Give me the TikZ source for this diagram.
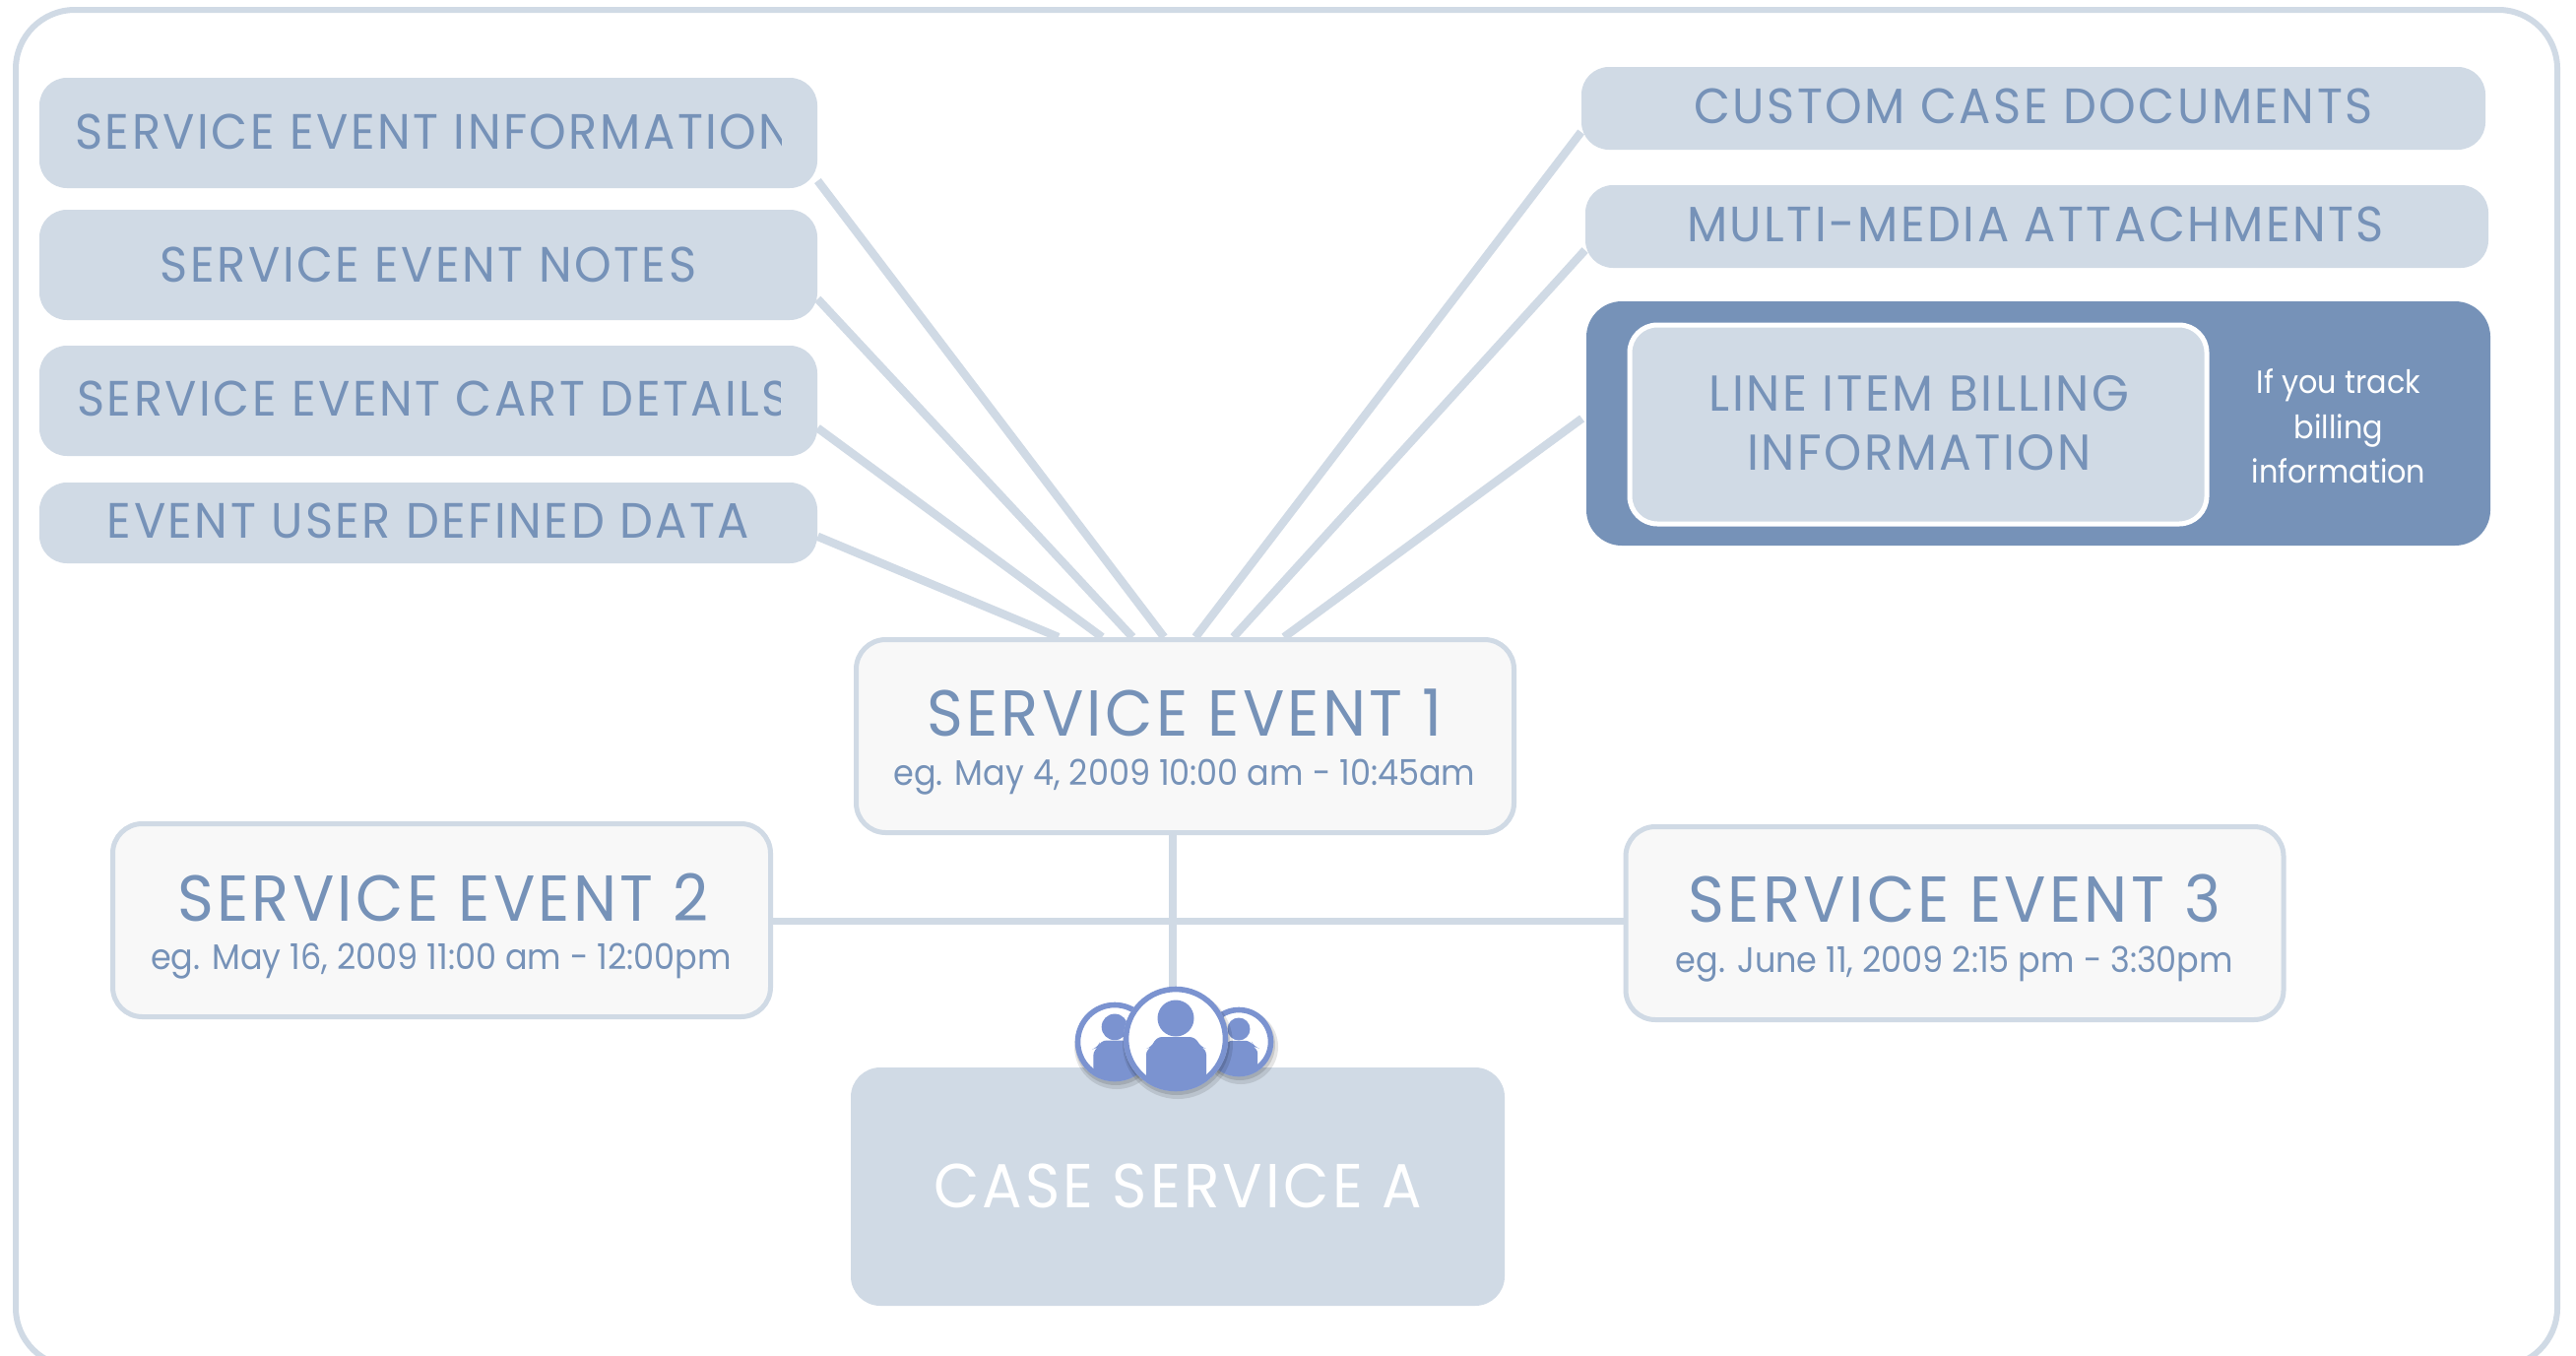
\documentclass[tikz,border=0pt]{standalone}
\usepackage{fontspec}
\setmainfont{Poppins}
\newfontfamily\gfont[FakeStretch=0.95,LetterSpace=5]{Poppins}
\newfontfamily\sfont[FakeStretch=0.93]{Poppins}
\definecolor{pale}{HTML}{D0DAE5}
\definecolor{steel}{HTML}{7692B8}
\definecolor{card}{HTML}{F8F8F8}
\definecolor{icon}{HTML}{7B93D0}
\tikzset{
 px/.style={x=0.5pt,y=-0.5pt},
 bar/.style={draw=pale,line width=4.2pt},
 paleBox/.style={fill=pale,rounded corners=14pt,inner sep=0pt},
 labelText/.style={text=steel,font=\gfont\fontsize{25.2}{29}\selectfont,inner sep=0pt,align=center},
 eventBox/.style={fill=card,draw=pale,line width=2.5pt,rounded corners=15pt,inner sep=0pt,minimum width=334pt,minimum height=98pt},
 titleText/.style={text=steel,font=\gfont\fontsize{33}{37}\selectfont,inner sep=0pt},
 subText/.style={text=steel,font=\sfont\fontsize{18}{22}\selectfont,inner sep=0pt},
}
\newcommand{\personicon}[4]{% cx cy r scale
 \begin{scope}[shift={(#1,#2)}]
  \fill[black,opacity=.10] (2,5) circle ({#3+3});
  \fill[black,opacity=.12] (1,3) circle ({#3+1});
  \fill[white] (0,0) circle (#3);
  \begin{scope}
   \clip (0,0) circle (#3);
   \fill[icon] (0,{-21*#4}) circle ({18.5*#4});
   \fill[icon,rounded corners=3pt] ({-30*#4},{60*#4}) -- ({-30*#4},{10*#4}) -- ({-24*#4},{8*#4}) -- ({-20*#4},{-2*#4}) -- ({20*#4},{-2*#4}) -- ({25*#4},{8*#4}) -- ({31*#4},{10*#4}) -- ({31*#4},{60*#4}) -- cycle;
  \end{scope}
  \draw[icon,line width=2.8pt] (0,0) circle ({#3-2.5});
 \end{scope}
}
\begin{document}
\begin{tikzpicture}[px]
\useasboundingbox (0,0) rectangle (2616,1376);
\clip (0,0) rectangle (2616,1376);
\fill[white] (0,0) rectangle (2616,1376);
\draw[pale,line width=3pt,rounded corners=30pt] (16,10) rectangle (2597,1388);

% left boxes
\node[paleBox,minimum width=395pt,minimum height=56pt] (sei) at (435,135) {};
\node[paleBox,minimum width=395pt,minimum height=56pt] (notes) at (435,269) {};
\node[paleBox,minimum width=395pt,minimum height=56pt] (cart) at (435,407) {};
\node[paleBox,minimum width=395pt,minimum height=41pt] (eudd) at (435,531) {};
\begin{scope}
 \clip (60,90) rectangle (793,180);
 \node[labelText,anchor=west] (seitxt) at (76,133.5) {SERVICE EVENT INFORMATION};
\end{scope}
\node[labelText] (notestxt) at (435,268.5) {SERVICE EVENT NOTES};
\begin{scope}
 \clip (60,360) rectangle (792,450);
 \node[labelText,anchor=west] (carttxt) at (78,405) {SERVICE EVENT CART DETAILS};
\end{scope}
\node[labelText] (euddtxt) at (435,529) {EVENT USER DEFINED DATA};

% right boxes
\node[paleBox,minimum width=459pt,minimum height=42pt] (custom) at (2065,110) {};
\node[labelText] (customtxt) at (2065,108) {CUSTOM CASE DOCUMENTS};
\node[paleBox,minimum width=458.5pt,minimum height=42pt] (multi) at (2068.5,230) {};
\node[labelText] (multitxt) at (2067,228) {MULTI-MEDIA ATTACHMENTS};
\node[fill=steel,rounded corners=18pt,inner sep=0pt,minimum width=459pt,minimum height=124pt] (dark) at (2070,430) {};
\node[fill=pale,draw=white,line width=2.5pt,rounded corners=14pt,inner sep=0pt,minimum width=293pt,minimum height=101pt] (billing) at (1948,431) {};
\node[labelText,font=\gfont\fontsize{25.6}{30}\selectfont] (billtxt) at (1949,430) {LINE ITEM BILLING\\INFORMATION};
\node[text=white,font=\sfont\fontsize{16.3}{22.8}\selectfont,inner sep=0pt,align=center] (iftxt) at (2375,433) {If you track\\billing\\information};

% event nodes
\node[eventBox] (e1) at (1203.5,747.5) {};
\node[eventBox] (e2) at (448.5,934.5) {};
\node[eventBox] (e3) at (1985,937.5) {};
\node[fill=pale,rounded corners=15pt,inner sep=0pt,minimum width=332pt,minimum height=121pt] (case) at (1196,1205) {};

% connectors
\draw[bar] (sei.-7.2) -- (e1.102.9);
\draw[bar] (notes.-5.1) -- (e1.118);
\draw[bar] (cart.-4.6) -- (e1.130);
\draw[bar] (eudd.-2.9) -- (e1.142.3);
\draw[bar] (custom.183.4) -- (e1.84.5);
\draw[bar] (multi.183.1) -- (e1.64.3);
\draw[bar,shorten <=2.5pt] (dark.179.4) -- (e1.45.3);
\coordinate (hub) at (1191,935);
\draw[bar] (e1.south -| hub) -- (hub |- case.north);
\draw[bar,line width=3.5pt] (e2.east |- hub) -- (e3.west |- hub);

% event text
\node[titleText] (t1) at (1203,724) {SERVICE EVENT 1};
\node[subText] (s1) at (1203,789) {eg. May 4, 2009 10:00 am - 10:45am};
\node[titleText] (t2) at (450,911) {SERVICE EVENT 2};
\node[subText] (s2) at (448,976) {eg. May 16, 2009 11:00 am - 12:00pm};
\node[titleText] (t3) at (1985,912) {SERVICE EVENT 3};
\node[subText] (s3) at (1985,979) {eg. June 11, 2009 2:15 pm - 3:30pm};
\node[titleText,text=white,font=\gfont\fontsize{31.6}{36}\selectfont] (t4) at (1196,1204) {CASE SERVICE A};

% people icon
\personicon{1132}{1058}{40}{0.72}
\personicon{1258}{1058}{35}{0.62}
\personicon{1194}{1055}{53}{1}
\end{tikzpicture}
\end{document}
